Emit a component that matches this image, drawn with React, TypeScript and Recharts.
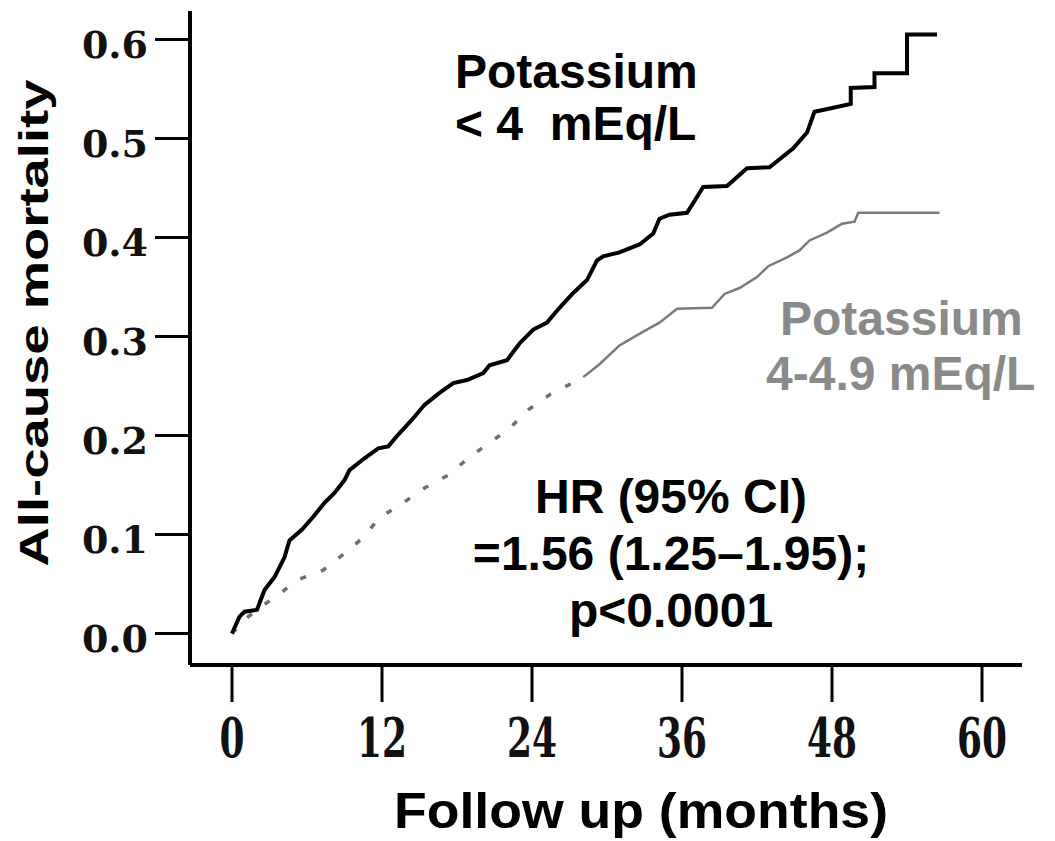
import React from "react";
import { LineChart, Line, XAxis, YAxis, Label, Customized } from "recharts";

// follow-up months / cumulative all-cause mortality
const xTicks = [0, 12, 24, 36, 48, 60];
const yTicks = [0, 0.1, 0.2, 0.3, 0.4, 0.5, 0.6];

// Potassium < 4 mEq/L (black); repeated months are the visible step corners
const lowK: [number, number][] = [
  [0, 0], [0.6, 0.017], [1.0, 0.022], [2.0, 0.024], [2.6, 0.044], [3.4, 0.057],
  [4.2, 0.077], [4.6, 0.094], [5.6, 0.105], [6.5, 0.118], [7.4, 0.132], [8.2, 0.142],
  [9.0, 0.155], [9.4, 0.165], [10.6, 0.177], [11.7, 0.187], [12.5, 0.189], [13.3, 0.201],
  [14.4, 0.216], [15.4, 0.231], [16.6, 0.243], [17.7, 0.253], [18.8, 0.256], [20.1, 0.263],
  [20.6, 0.271], [22.0, 0.276], [23.0, 0.293], [24.1, 0.307], [25.2, 0.314], [26.2, 0.329],
  [27.3, 0.344], [28.4, 0.357], [29.2, 0.377], [29.7, 0.381], [31.0, 0.385], [32.6, 0.393],
  [33.7, 0.404], [34.2, 0.419], [35.0, 0.423], [36.4, 0.425], [37.7, 0.451], [39.6, 0.452],
  [41.2, 0.47], [43.0, 0.471], [44.9, 0.49], [46.0, 0.506], [46.6, 0.527], [48.1, 0.531],
  [49.5, 0.535], [49.5, 0.551], [51.4, 0.552], [51.4, 0.566], [54.0, 0.566], [54.0, 0.605],
  [56.4, 0.605],
];

// Potassium 4-4.9 mEq/L (grey) - dotted early part, then solid
const midKEarly: [number, number][] = [
  [0, 0], [1.0, 0.014], [2.2, 0.026], [3.6, 0.038], [5.2, 0.054], [7.3, 0.064],
  [9.0, 0.081], [10.5, 0.097], [11.8, 0.117], [13.7, 0.132], [15.4, 0.147], [17.3, 0.16],
  [18.8, 0.176], [20.4, 0.191], [22.2, 0.207], [23.7, 0.226], [25.5, 0.242], [27.4, 0.254],
  [28.1, 0.259],
];
const midKLate: [number, number][] = [
  [28.1, 0.259], [29.4, 0.272], [31.0, 0.291], [32.9, 0.305], [34.2, 0.314], [35.6, 0.328],
  [38.4, 0.329], [39.4, 0.343], [40.6, 0.349], [42.0, 0.36], [42.9, 0.371], [44.4, 0.38],
  [45.4, 0.387], [46.2, 0.397], [47.6, 0.405], [48.8, 0.414], [49.8, 0.416], [50.1, 0.425],
  [56.6, 0.425],
];

const rows = (pts: [number, number][]) => pts.map(([month, risk]) => ({ month, risk }));

const SANS = "'Liberation Sans', Arial, sans-serif";
const SERIF = "'DejaVu Serif', serif";
const GREY = "#8a8a8a";

function YTick(props: any) {
  const { x, y, payload } = props;
  return (
    <text x={x} y={y + 18} textAnchor="end" fontFamily={SERIF} fontWeight="bold" fontSize={38} fill="#111">
      {Number(payload.value).toFixed(1)}
    </text>
  );
}

function XTick(props: any) {
  const { x, y, payload } = props;
  const s = String(payload.value);
  return (
    <text
      x={x}
      y={y + 55}
      textAnchor="middle"
      fontFamily={SERIF}
      fontWeight="bold"
      fontSize={54}
      fill="#111"
      textLength={s.length * 25}
      lengthAdjust="spacingAndGlyphs"
    >
      {s}
    </text>
  );
}

function Notes() {
  const t = { fontFamily: SANS, fontWeight: "bold" as const, fontSize: 48 };
  return (
    <g>
      <text x={455} y={88} {...t} fill="#000">Potassium</text>
      <text x={455} y={140} {...t} fill="#000" style={{ whiteSpace: "pre" }}>{"< 4  mEq/L"}</text>
      <text x={780} y={335} {...t} fill={GREY}>Potassium</text>
      <text x={766} y={390} {...t} fill={GREY}>4-4.9 mEq/L</text>
      <text x={671} y={513} {...t} fill="#000" textAnchor="middle">HR (95% CI)</text>
      <text x={671} y={570} {...t} fill="#000" textAnchor="middle">=1.56 (1.25–1.95);</text>
      <text x={671} y={627} {...t} fill="#000" textAnchor="middle">p&lt;0.0001</text>
    </g>
  );
}

export default function App() {
  return (
    <div style={{ position: "absolute", left: 0, top: 0, width: 1055, height: 841, background: "#fff" }}>
      <LineChart width={1055} height={841} margin={{ top: 11, right: 33, bottom: 0, left: 0 }}>
        <XAxis
          dataKey="month"
          type="number"
          domain={[-3.36, 63.2]}
          ticks={xTicks}
          allowDataOverflow
          height={176}
          tickSize={37}
          tickMargin={0}
          axisLine={{ stroke: "#000", strokeWidth: 4 }}
          tickLine={{ stroke: "#000", strokeWidth: 3 }}
          tick={<XTick />}
        >
          <Label
            content={() => (
              <text
                x={641}
                y={828}
                textAnchor="middle"
                fontFamily={SANS}
                fontWeight="bold"
                fontSize={50}
                fill="#000"
                textLength={494}
                lengthAdjust="spacingAndGlyphs"
              >
                Follow up (months)
              </text>
            )}
          />
        </XAxis>
        <YAxis
          type="number"
          domain={[-0.0318, 0.6288]}
          ticks={yTicks}
          allowDataOverflow
          width={190}
          tickSize={35}
          tickMargin={7}
          axisLine={{ stroke: "#000", strokeWidth: 4 }}
          tickLine={{ stroke: "#000", strokeWidth: 3 }}
          tick={<YTick />}
        >
          <Label
            content={() => (
              <text
                x={48}
                y={323}
                transform="rotate(-90 48 323)"
                textAnchor="middle"
                fontFamily={SANS}
                fontWeight="bold"
                fontSize={41}
                fill="#000"
                textLength={487}
                lengthAdjust="spacingAndGlyphs"
              >
                All-cause mortality
              </text>
            )}
          />
        </YAxis>
        <Line
          data={rows(midKEarly)}
          dataKey="risk"
          type="linear"
          stroke="#6e6e6e"
          strokeWidth={3.5}
          strokeDasharray="6 16"
          dot={false}
          activeDot={false}
          isAnimationActive={false}
        />
        <Line
          data={rows(midKLate)}
          dataKey="risk"
          type="linear"
          stroke="#7a7a7a"
          strokeWidth={2.5}
          dot={false}
          activeDot={false}
          isAnimationActive={false}
        />
        <Line
          data={rows(lowK)}
          dataKey="risk"
          type="linear"
          stroke="#000"
          strokeWidth={4}
          dot={false}
          activeDot={false}
          isAnimationActive={false}
        />
        <Customized component={Notes} />
      </LineChart>
    </div>
  );
}
